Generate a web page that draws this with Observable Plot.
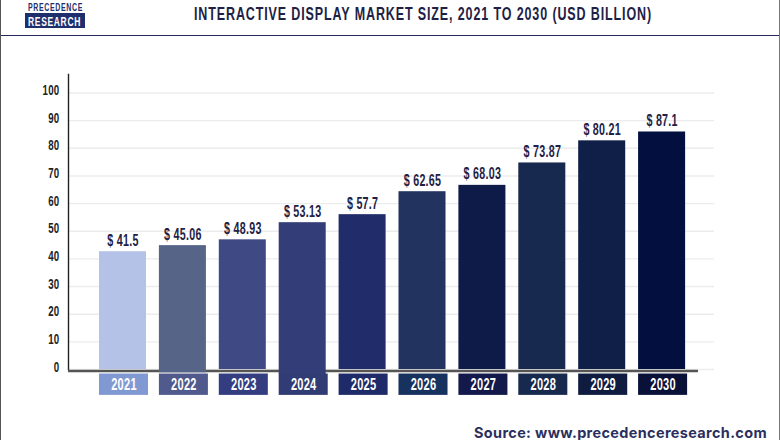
<!DOCTYPE html>
<html>
<head>
<meta charset="utf-8">
<script src="https://cdn.jsdelivr.net/npm/d3@7"></script>
<script src="https://cdn.jsdelivr.net/npm/@observablehq/plot@0.6"></script>
<style>
  html, body { margin: 0; padding: 0; background: #fff; }
  #page { position: relative; width: 780px; height: 440px; overflow: hidden; box-sizing: border-box; border-left: 1px solid #555; border-right: 1px solid #777; }
  #head { position: relative; height: 36px; box-sizing: border-box; border-bottom: 1.5px solid #27275c; }
  #title { position: absolute; left: 193px; top: 3px; white-space: nowrap; transform-origin: 0 0; font: bold 18.5px "Liberation Sans", sans-serif; letter-spacing: 1.3px; color: #1e2145; }
  #logo { position: absolute; left: 24px; top: 0; width: 60px; height: 28px; background: #fff; }
  .lg { position: absolute; left: 0; width: 60px; font: bold 11px "Liberation Sans", sans-serif; }
  .lg span { position: absolute; left: 3px; top: 0; white-space: nowrap; transform-origin: 0 0; letter-spacing: 1px; }
  #logoA { top: 1px; height: 12px; color: #1f2f6e; line-height: 12px; }
  #logoB { top: 13px; height: 15px; color: #fff; background: #1f2f6e; line-height: 17px; font-size: 13px; }
  #chart svg { display: block; overflow: visible; }
  #source { position: absolute; left: 473px; top: 426px; height: 14px; line-height: 14px; white-space: nowrap; transform-origin: 0 0; font-family: "Inter", "Open Sans", sans-serif; font-weight: bold; font-size: 14.5px; letter-spacing: 0.35px; color: #2b2f5e; }
</style>
</head>
<body>
<div id="page">
  <div id="head">
    <div id="logo"><div class="lg" id="logoA"><span>PRECEDENCE</span></div><div class="lg" id="logoB"><span>RESEARCH</span></div></div>
    <div id="title">INTERACTIVE DISPLAY MARKET SIZE, 2021 TO 2030 (USD BILLION)</div>
  </div>
  <div id="chart"></div>
  <div id="source">Source: www.precedenceresearch.com</div>
</div>
<script>
const years = ["2021","2022","2023","2024","2025","2026","2027","2028","2029","2030"];
const valueLabels = ["$ 41.5","$ 45.06","$ 48.93","$ 53.13","$ 57.7","$ 62.65","$ 68.03","$ 73.87","$ 80.21","$ 87.1"];
// Bar heights (the drawn bars differ slightly from their printed labels)
const barHeights = [42.6, 44.8, 46.9, 53.1, 56.0, 64.3, 66.6, 74.7, 82.7, 85.9];
const barFloors = [0, -1.2, 0, -1.9, 0, 0, 0, 0, 0, 0];
const yTicks = [0,10,20,30,40,50,60,70,80,90,100];

const barColors = ["#b5c2e8","#566487","#3f4a85","#333e78","#212c6a","#22335f","#0e1a48","#18294f","#0f1f47","#03103f"];
const tileColors = ["#8199d2","#515a8c","#333d7f","#323c74","#1f2b68","#17325f","#13194a","#17294d","#0f1c40","#0a1138"];

const rows = years.map((year, i) => ({
  year, label: valueLabels[i], height: barHeights[i], floor: barFloors[i],
  barColor: barColors[i], tileColor: tileColors[i]
}));

const sans = '"Liberation Sans", sans-serif';

const plot = Plot.plot({
  width: 778,
  height: 364,
  marginTop: 38,
  marginBottom: 31,
  marginLeft: 67,
  marginRight: 65,
  style: { background: "transparent", fontFamily: sans },
  x: { type: "band", domain: years, range: [92, 690.1], paddingInner: 0.215, paddingOuter: 0.1, round: false, axis: null },
  y: { domain: [0, 100], range: [333, 56.5], axis: null },
  marks: [
    Plot.gridY(yTicks, { stroke: "#ececec", strokeOpacity: 1, strokeWidth: 1.4 }),
    Plot.frame({ anchor: "left", stroke: "#222", strokeWidth: 1.4 }),
    Plot.ruleY([0], { stroke: "#555", strokeWidth: 2.6, dy: 1.5, insetRight: 16 }),
    Plot.barY(rows, { x: "year", y1: "floor", y2: "height", fill: { value: d => d.barColor, scale: null } }),
    Plot.barY(rows, { x: "year", y1: () => -2, y2: () => -9, inset: -1, dx: 1, fill: { value: d => d.tileColor, scale: null } }),
    Plot.axisX({ y: -5.5, anchor: "bottom", tickSize: 0, tickPadding: 0, label: null, fill: "#fff", fontSize: 16.5, fontWeight: "bold", dx: 1, lineAnchor: "middle", textStroke: "none" }),
    Plot.text(rows, { x: "year", y: "height", text: "label", dy: -11, lineAnchor: "middle", fill: "#1e2145", fontSize: 16, fontWeight: "bold", fontFamily: sans }),
    Plot.axisY(yTicks, { anchor: "left", tickSize: 0, tickPadding: 9, label: null, fill: "#222", fontSize: 14.5, fontWeight: "bold", dy: -2.6 })
  ]
});
document.getElementById("chart").appendChild(plot);

// No condensed face is installed, so the narrow lettering is made by squeezing each text horizontally.
plot.querySelectorAll("text").forEach(t => {
  t.setAttribute("transform", (t.getAttribute("transform") || "") + " scale(0.67,1)");
  t.setAttribute("letter-spacing", "0.4");
});
function fit(sel, width) {
  const el = document.querySelector(sel);
  el.style.transform = `scaleX(${width / el.getBoundingClientRect().width})`;
}
fit("#title", 458);
fit("#logoA span", 55);
fit("#logoB span", 53);
fit("#source", 293);
</script>
</body>
</html>
